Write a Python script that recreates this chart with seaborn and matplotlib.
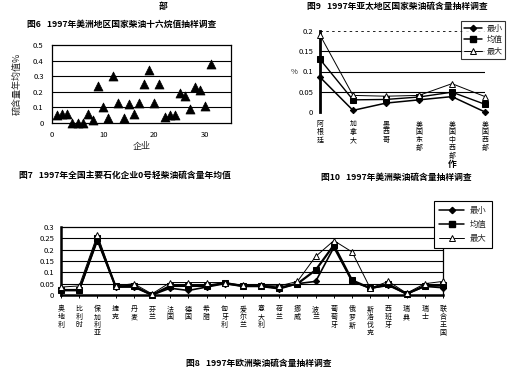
import numpy as np
import pandas as pd
import matplotlib
matplotlib.use("Agg")
import matplotlib.pyplot as plt
import seaborn as sns
from matplotlib.lines import Line2D

sns.set_theme(style="white")
plt.rcParams['font.family'] = ['Noto Sans CJK SC', 'DejaVu Sans']
plt.rcParams['axes.unicode_minus'] = False

# ---------------- data ----------------
# Fig 7: sulfur annual mean per enterprise
ent_idx = list(range(1, 32))
ent_sulfur = [0.05, 0.06, 0.06, 0.0, 0.0, 0.0, 0.06, 0.02, 0.24, 0.10,
              0.03, 0.30, 0.13, 0.03, 0.12, 0.06, 0.13, 0.25, 0.34, 0.13,
              0.25, 0.04, 0.05, 0.05, 0.19, 0.17, 0.09, 0.23, 0.21, 0.11, 0.38]

# Fig 10: Americas
am_cats = ["阿根廷", "加拿大", "墨西哥", "美国东部", "美国中西部", "美国西部"]
am_min = [0.086, 0.004, 0.022, 0.030, 0.038, 0.000]
am_mean = [0.130, 0.030, 0.031, 0.037, 0.049, 0.019]
am_max = [0.190, 0.041, 0.039, 0.041, 0.070, 0.038]

# Fig 8: Europe
eu_cats = ["奥地利", "比利时", "保加利亚", "捷克", "丹麦", "芬兰", "法国", "德国",
           "希腊", "匈牙利", "爱尔兰", "意大利", "荷兰", "挪威", "波兰", "葡萄牙",
           "俄罗斯", "斯洛伐克", "西班牙", "瑞典", "瑞士", "联合王国"]
eu_min = [0.020, 0.020, 0.240, 0.035, 0.035, 0.000, 0.030, 0.020, 0.035, 0.050, 0.038,
          0.038, 0.027, 0.050, 0.060, 0.210, 0.060, 0.030, 0.042, 0.005, 0.038, 0.032]
eu_mean = [0.022, 0.022, 0.250, 0.038, 0.040, 0.000, 0.040, 0.040, 0.040, 0.053, 0.040,
           0.040, 0.032, 0.050, 0.110, 0.220, 0.065, 0.030, 0.047, 0.005, 0.040, 0.042]
eu_max = [0.035, 0.040, 0.265, 0.040, 0.050, 0.005, 0.055, 0.055, 0.055, 0.055, 0.042,
          0.042, 0.040, 0.060, 0.170, 0.240, 0.190, 0.030, 0.060, 0.008, 0.050, 0.060]

series_labels = ["最小", "均值", "最大"]

# ---------------- layout ----------------
W, H = 519, 377
fig = plt.figure(figsize=(W / 100, H / 100), dpi=100)
fig.patch.set_facecolor("white")


def rect(x0, y0, x1, y1):
    return [x0 / W, 1 - y1 / H, (x1 - x0) / W, (y1 - y0) / H]


def ftext(x, y, s, **kw):
    fig.text(x / W, 1 - y / H, s, **kw)


cap_kw = dict(fontsize=6.3, fontweight="bold", ha="center", va="center", color="black")
ftext(163, 6, "部", **cap_kw)
ftext(122, 24, "图6   1997年美洲地区国家柴油十六烷值抽样调查", **cap_kw)
ftext(397, 6, "图9   1997年亚太地区国家柴油硫含量抽样调查", **cap_kw)
ftext(125, 175, "图7   1997年全国主要石化企业0号轻柴油硫含量年均值", **cap_kw)
ftext(452, 164, "作", **cap_kw)
ftext(396, 177, "图10   1997年美洲柴油硫含量抽样调查", **cap_kw)
ftext(259, 363, "图8   1997年欧洲柴油硫含量抽样调查", **cap_kw)

tick_fs = 5.5

# ---------------- scatter (fig 7) ----------------
ax1 = fig.add_axes(rect(52, 45, 231, 123))
sns.scatterplot(x=ent_idx, y=ent_sulfur, marker="^", s=42, color="black",
                edgecolor="black", ax=ax1, clip_on=False, zorder=3)
ax1.set_xlim(0, 35)
ax1.set_ylim(0, 0.5)
ax1.set_xticks([0, 10, 20, 30])
ax1.set_yticks([0, 0.1, 0.2, 0.3, 0.4, 0.5])
ax1.set_yticklabels(["0", "0.1", "0.2", "0.3", "0.4", "0.5"])
for yv in [0.1, 0.2, 0.3, 0.4]:
    ax1.axhline(yv, color="black", lw=0.8, zorder=1)
for sp in ax1.spines.values():
    sp.set_color("black")
    sp.set_linewidth(0.9)
ax1.tick_params(labelsize=tick_fs, length=0, pad=6, colors="black")
ax1.set_xlabel("企业", fontsize=6.5, labelpad=2)
ax1.set_ylabel("硫含量年均值%", fontsize=6.5, labelpad=8)


def line_panel(ax, cats, mn, me, mx, lw_min, lw_mean, lw_max, ms, pad):
    x = np.arange(len(cats))
    sns.lineplot(x=x, y=mn, marker="D", markersize=ms * 0.8, color="black", lw=lw_min,
                 markeredgecolor="black", ax=ax, clip_on=False, zorder=4)
    sns.lineplot(x=x, y=me, marker="s", markersize=ms, color="black", lw=lw_mean,
                 markeredgecolor="black", ax=ax, clip_on=False, zorder=4)
    sns.lineplot(x=x, y=mx, marker="^", markersize=ms, color="black", lw=lw_max,
                 markerfacecolor="white", markeredgecolor="black", markeredgewidth=0.7,
                 ax=ax, clip_on=False, zorder=5)
    ax.set_xlim(0, len(cats) - 1)
    ax.set_xticks(x)
    ax.set_xticklabels(["\n".join(c) for c in cats], fontsize=5.0, linespacing=1.0, va="top")
    ax.tick_params(axis="x", length=2.5, width=0.7, colors="black", pad=pad, direction="out",
                   bottom=True)
    ax.tick_params(axis="y", length=0, labelsize=tick_fs, pad=5, colors="black")


def legend_handles(ms):
    return [
        Line2D([], [], color="black", lw=1.1, marker="D", markersize=ms * 0.8),
        Line2D([], [], color="black", lw=1.1, marker="s", markersize=ms),
        Line2D([], [], color="black", lw=0.7, marker="^", markersize=ms,
               markerfacecolor="white", markeredgewidth=0.7),
    ]


# ---------------- Americas (fig 10) ----------------
ax2 = fig.add_axes(rect(320, 31, 485, 112))
line_panel(ax2, am_cats, am_min, am_mean, am_max, 1.1, 1.0, 0.7, 4, 6)
ax2.set_ylim(0, 0.2)
ax2.set_yticks([0, 0.05, 0.1, 0.15, 0.2])
ax2.set_yticklabels(["0", "0.05", "0.1", "0.15", "0.2"])
for yv in [0.05, 0.1, 0.15]:
    ax2.axhline(yv, color="black", lw=0.8, zorder=1)
ax2.axhline(0.2, color="black", lw=0.6, ls=(0, (3, 4)), zorder=1)
ax2.axhline(0.0, color="black", lw=0.6, ls=(0, (3, 4)), zorder=1)
for name, sp in ax2.spines.items():
    sp.set_visible(name == "left")
ax2.spines["left"].set_linewidth(2.0)
ax2.spines["left"].set_color("black")
ax2.set_ylabel("%", fontsize=5.5, rotation=0, labelpad=3, va="center")
ax2.tick_params(axis="x", length=0)
leg2 = fig.legend(legend_handles(4), series_labels, loc="upper left",
                  bbox_to_anchor=(457 / W, 1 - 17 / H), fontsize=5.8, frameon=True,
                  fancybox=False, edgecolor="black", handlelength=2.2, borderpad=0.35,
                  labelspacing=0.3, handletextpad=0.6)
leg2.get_frame().set_linewidth(0.8)

# ---------------- Europe (fig 8) ----------------
ax3 = fig.add_axes(rect(61, 227, 443, 295))
line_panel(ax3, eu_cats, eu_min, eu_mean, eu_max, 1.2, 1.6, 0.7, 4, 5)
ax3.set_ylim(0, 0.3)
ax3.set_yticks([0, 0.05, 0.1, 0.15, 0.2, 0.25, 0.3])
ax3.set_yticklabels(["0", "0.05", "0.1", "0.15", "0.2", "0.25", "0.3"])
for yv in [0.05, 0.1, 0.15, 0.2, 0.25]:
    ax3.axhline(yv, color="black", lw=0.8, zorder=1)
for name, sp in ax3.spines.items():
    sp.set_color("black")
    sp.set_linewidth(1.8 if name in ("left", "bottom") else 0.9)
leg3 = fig.legend(legend_handles(4), series_labels, loc="upper left",
                  bbox_to_anchor=(430 / W, 1 - 197 / H), fontsize=6, frameon=True,
                  fancybox=False, edgecolor="black", handlelength=3.0, borderpad=0.6,
                  labelspacing=0.6, handletextpad=0.7, framealpha=1)
leg3.get_frame().set_linewidth(0.8)

fig.savefig("out.png", dpi=100, facecolor="white")
